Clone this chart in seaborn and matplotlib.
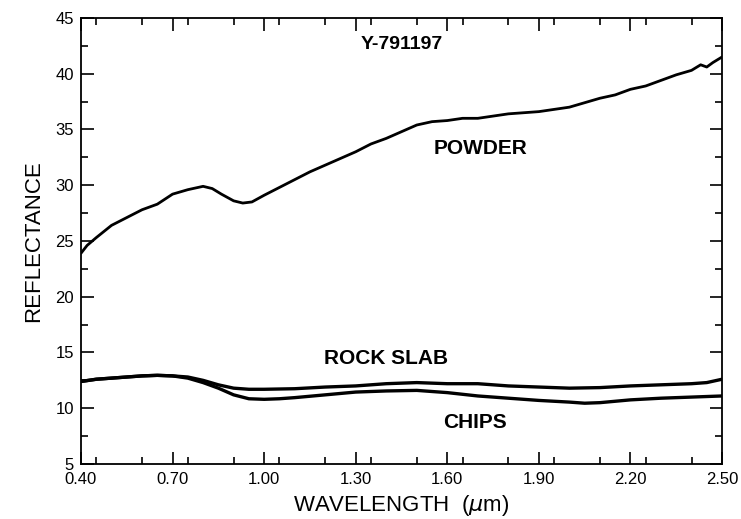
import numpy as np
import pandas as pd
import matplotlib
matplotlib.use("Agg")
import matplotlib.pyplot as plt
from matplotlib.ticker import MultipleLocator, FixedLocator
import seaborn as sns

# wavelength (um) / reflectance (%)
powder_wl = [0.40, 0.42, 0.45, 0.50, 0.55, 0.60, 0.65, 0.70, 0.75, 0.80, 0.83, 0.86,
             0.90, 0.93, 0.96, 1.00, 1.05, 1.10, 1.15, 1.20, 1.25, 1.30, 1.35, 1.40,
             1.45, 1.50, 1.55, 1.60, 1.65, 1.70, 1.75, 1.80, 1.85, 1.90, 1.95, 2.00,
             2.05, 2.10, 2.15, 2.20, 2.25, 2.30, 2.35, 2.40, 2.43, 2.45, 2.47, 2.50]
powder_refl = [23.9, 24.6, 25.3, 26.4, 27.1, 27.8, 28.3, 29.2, 29.6, 29.9, 29.7, 29.2,
               28.6, 28.4, 28.5, 29.1, 29.8, 30.5, 31.2, 31.8, 32.4, 33.0, 33.7, 34.2,
               34.8, 35.4, 35.7, 35.8, 36.0, 36.0, 36.2, 36.4, 36.5, 36.6, 36.8, 37.0,
               37.4, 37.8, 38.1, 38.6, 38.9, 39.4, 39.9, 40.3, 40.8, 40.6, 41.0, 41.5]

slab_wl = [0.40, 0.45, 0.50, 0.55, 0.60, 0.65, 0.70, 0.75, 0.80, 0.85, 0.90, 0.95,
           1.00, 1.10, 1.20, 1.30, 1.40, 1.50, 1.60, 1.70, 1.80, 1.90, 2.00, 2.10,
           2.20, 2.30, 2.40, 2.45, 2.50]
slab_refl = [12.4, 12.6, 12.7, 12.8, 12.9, 12.95, 12.9, 12.8, 12.5, 12.1, 11.8, 11.7,
             11.7, 11.75, 11.9, 12.0, 12.2, 12.3, 12.2, 12.2, 12.0, 11.9, 11.8, 11.85,
             12.0, 12.1, 12.2, 12.3, 12.6]

chips_wl = [0.40, 0.45, 0.50, 0.55, 0.60, 0.65, 0.70, 0.75, 0.80, 0.85, 0.90, 0.95,
            1.00, 1.05, 1.10, 1.20, 1.30, 1.40, 1.50, 1.60, 1.70, 1.80, 1.90, 2.00,
            2.05, 2.10, 2.20, 2.30, 2.40, 2.50]
chips_refl = [12.4, 12.6, 12.7, 12.8, 12.9, 12.95, 12.9, 12.7, 12.3, 11.8, 11.2, 10.85,
              10.8, 10.85, 10.95, 11.2, 11.45, 11.55, 11.6, 11.4, 11.1, 10.9, 10.7, 10.55,
              10.45, 10.5, 10.75, 10.9, 11.0, 11.1]

x_ticks = [0.40, 0.70, 1.00, 1.30, 1.60, 1.90, 2.20, 2.50]
x_ticklabels = ["0.40", "0.70", "1.00", "1.30", "1.60", "1.90", "2.20", "2.50"]

sns.set_style("ticks")
plt.rcParams['font.family'] = ['Liberation Sans', 'DejaVu Sans']
plt.rcParams['text.color'] = 'black'
plt.rcParams['axes.labelcolor'] = 'black'
plt.rcParams['xtick.color'] = 'black'
plt.rcParams['ytick.color'] = 'black'

fig = plt.figure(figsize=(7.41, 5.19), dpi=100)
ax = fig.add_axes([0.1093, 0.106, 0.8651, 0.8594])

sns.lineplot(x=powder_wl, y=powder_refl, ax=ax, color='black', linewidth=2.0)
sns.lineplot(x=slab_wl, y=slab_refl, ax=ax, color='black', linewidth=2.4)
sns.lineplot(x=chips_wl, y=chips_refl, ax=ax, color='black', linewidth=2.4)

ax.set_xlim(0.40, 2.50)
ax.set_ylim(5, 45)
ax.xaxis.set_major_locator(FixedLocator(x_ticks))
ax.set_xticklabels(x_ticklabels)
ax.xaxis.set_minor_locator(MultipleLocator(0.15))
ax.yaxis.set_major_locator(MultipleLocator(5))
ax.yaxis.set_minor_locator(MultipleLocator(2.5))
ax.tick_params(which='both', direction='in', top=True, right=True,
               labelright=False, labeltop=False, color='black', width=1.2)
ax.tick_params(which='major', length=9, labelsize=12)
ax.tick_params(axis='x', which='major', pad=6)
ax.tick_params(axis='y', which='major', pad=5)
ax.tick_params(which='minor', length=5)
for s in ax.spines.values():
    s.set_linewidth(1.3)
    s.set_color('black')

ax.set_xlabel(r"WAVELENGTH  ($\mu$m)", fontsize=16, labelpad=4)
ax.set_ylabel("REFLECTANCE", fontsize=16, labelpad=8)

ax.text(1.45, 42.6, "Y-791197", fontsize=14, fontweight='bold', ha='center', va='center')
ax.text(1.71, 33.3, "POWDER", fontsize=15, fontweight='bold', ha='center', va='center')
ax.text(1.40, 14.45, "ROCK SLAB", fontsize=15, fontweight='bold', ha='center', va='center')
ax.text(1.69, 8.7, "CHIPS", fontsize=15, fontweight='bold', ha='center', va='center')

fig.savefig("out.png", dpi=100, facecolor='white')
